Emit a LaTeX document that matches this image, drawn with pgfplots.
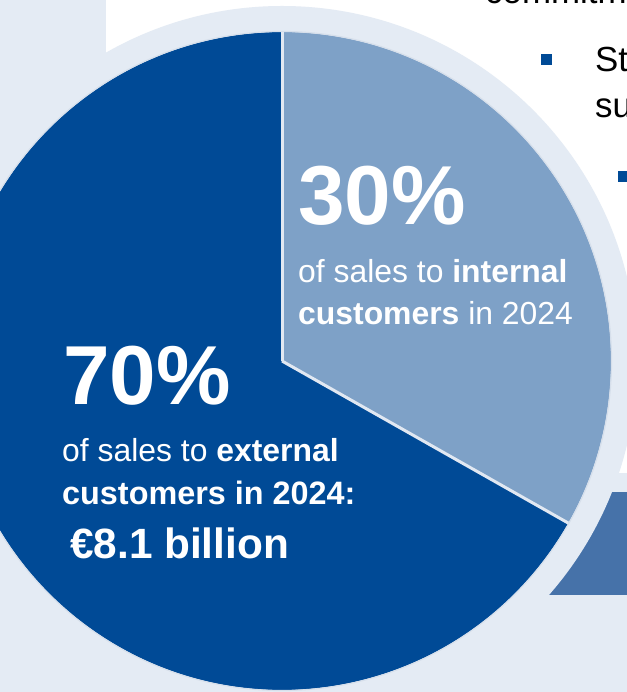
\documentclass[border=0pt]{standalone}
\usepackage{pgfplots}
\pgfplotsset{compat=1.18}
\usepackage{pgfplotstable}
\usepackage{fontspec}
\setmainfont{Liberation Sans}
\definecolor{bgc}{HTML}{E4EBF4}
\definecolor{darkblue}{HTML}{004A96}
\definecolor{lightblue}{HTML}{7EA1C7}
\definecolor{midblue}{HTML}{4672A9}
\definecolor{sepc}{HTML}{E1E8F2}
\definecolor{outl}{HTML}{D6DFEB}
\pgfplotstableread{
segment share
internal 33.2
external 66.8
}\piedata
\begin{document}%
\begin{tikzpicture}
\pgfplotstablegetelem{0}{share}\of\piedata\let\shareA\pgfplotsretval
\pgfplotstablegetelem{1}{share}\of\piedata\let\shareB\pgfplotsretval
\pgfmathsetmacro\fracA{\shareA/(\shareA+\shareB)}
\pgfmathsetmacro\fracB{\shareB/(\shareA+\shareB)}
\pgfmathsetmacro\angEnd{90-360*\fracA}
\pgfmathsetmacro\angLow{\angEnd-360*\fracB}
\useasboundingbox (0,0) rectangle (627bp,692bp);
\begin{axis}[at={(0,0)}, anchor=south west, scale only axis,
  width=627bp, height=692bp, xmin=0, xmax=627, ymin=0, ymax=692,
  hide axis, clip=true]
\fill[bgc] (axis cs:-5,-5) rectangle (axis cs:640,700);
\fill[white] (axis cs:106,219) rectangle (axis cs:640,700);
\fill[midblue] (axis cs:480,97) rectangle (axis cs:640,200);
\fill[bgc] (axis cs:282,331) circle[radius=355bp];
% pie
\fill[lightblue] (axis cs:282,331) -- ++(90:329bp) arc[start angle=90, end angle=\angEnd, radius=329bp] -- cycle;
\fill[darkblue] (axis cs:282,331) -- ++(\angEnd:329bp) arc[start angle=\angEnd, end angle=\angLow, radius=329bp] -- cycle;
\draw[outl, line width=1.2bp] (axis cs:282,331) circle[radius=329.5bp];
\draw[sepc, line width=3bp] (axis cs:282,331) -- ++(90:329bp);
\draw[sepc, line width=3bp] (axis cs:282,331) -- ++(\angEnd:329bp);
% labels
\node[anchor=base west, inner sep=0, text=white, font=\fontsize{84}{84}\selectfont\bfseries] at (axis cs:298,467) {30\%};
\node[anchor=base west, inner sep=0, text=white, font=\fontsize{32}{40}\selectfont] at (axis cs:298,409) {of sales to \textbf{internal}};
\node[anchor=base west, inner sep=0, text=white, font=\fontsize{32}{40}\selectfont] at (axis cs:298,367) {\textbf{customers} in 2024};
\node[anchor=base west, inner sep=0, text=white, font=\fontsize{84}{84}\selectfont\bfseries] at (axis cs:63,287) {70\%};
\node[anchor=base west, inner sep=0, text=white, font=\fontsize{32}{40}\selectfont] at (axis cs:62,230) {of sales to \textbf{external}};
\node[anchor=base west, inner sep=0, text=white, font=\fontsize{32.5}{40}\selectfont\bfseries] at (axis cs:62,187) {customers in 2024:};
\node[anchor=base west, inner sep=0, text=white, font=\fontsize{42.5}{48}\selectfont\bfseries] at (axis cs:70,133) {€8.1 billion};
% right-hand slide text (cut off by the slide crop, as in the reference)
\node[anchor=base west, inner sep=0, text=black, font=\fontsize{35}{42}\selectfont] at (axis cs:485,688) {commitm};
\fill[darkblue] (axis cs:541,627) rectangle (axis cs:552,638);
\node[anchor=base west, inner sep=0, text=black, font=\fontsize{35}{42}\selectfont] at (axis cs:595,620) {St};
\node[anchor=base west, inner sep=0, text=black, font=\fontsize{35}{42}\selectfont] at (axis cs:595,574) {su};
\fill[darkblue] (axis cs:618,510) rectangle (axis cs:629,521);
\end{axis}
\end{tikzpicture}%
\end{document}
